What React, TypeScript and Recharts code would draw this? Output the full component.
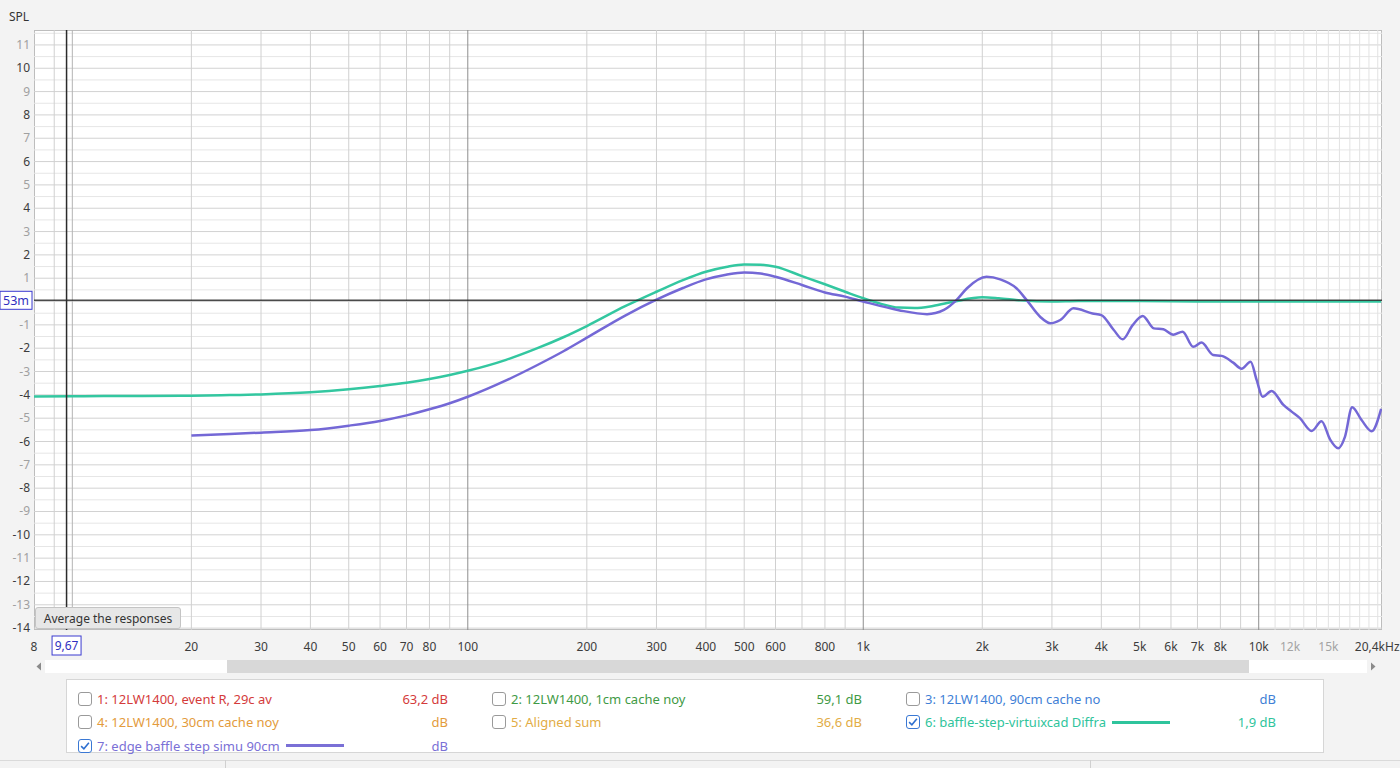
import React from 'react';
import { LineChart, Line, XAxis, YAxis, ReferenceLine } from 'recharts';

// 6: baffle-step-virtuixcad Diffra (teal)
const baffleFreq = [8, 10, 12, 15, 20, 25, 30, 40, 50, 60, 70, 80, 90, 100, 125, 150, 175, 200, 250, 300, 350, 400, 450, 500, 550, 600, 700, 800, 900, 1000, 1100, 1230, 1350, 1500, 1700, 2000, 2200, 2500, 3000, 3500, 5000, 7000, 10000, 15000, 20400];
const baffleSpl = [-4.07, -4.06, -4.05, -4.05, -4.04, -4.01, -3.98, -3.89, -3.76, -3.62, -3.48, -3.32, -3.15, -2.97, -2.5, -2.0, -1.52, -1.05, -0.2, 0.42, 0.92, 1.28, 1.48, 1.59, 1.58, 1.49, 1.09, 0.74, 0.42, 0.14, -0.08, -0.26, -0.28, -0.19, 0.0, 0.18, 0.14, 0.05, 0.0, 0.02, 0.02, 0.0, 0.0, 0.0, 0.0];

// 7: edge baffle step simu 90cm (purple)
const edgeFreq = [20, 25, 30, 40, 50, 60, 70, 80, 90, 100, 125, 150, 175, 200, 250, 300, 350, 400, 450, 500, 550, 600, 700, 800, 900, 1000, 1230, 1450, 1600, 1720, 1830, 2050, 2220, 2440, 2590, 2800, 2970, 3150, 3400, 3800, 4000, 4300, 4530, 4800, 5090, 5430, 5740, 6080, 6420, 6830, 7170, 7670, 8060, 8620, 9050, 9540, 9880, 10230, 10780, 11530, 12110, 12710, 13610, 14420, 15140, 15890, 16520, 17230, 18200, 19300, 20400];
const edgeSpl = [-5.74, -5.68, -5.62, -5.51, -5.32, -5.12, -4.88, -4.62, -4.36, -4.08, -3.38, -2.72, -2.12, -1.55, -0.6, 0.08, 0.58, 0.95, 1.15, 1.25, 1.2, 1.06, 0.71, 0.39, 0.21, 0.0, -0.37, -0.54, -0.36, 0.06, 0.57, 1.06, 0.95, 0.57, 0.06, -0.65, -0.93, -0.79, -0.29, -0.51, -0.58, -1.22, -1.62, -1.01, -0.62, -1.15, -1.19, -1.42, -1.29, -1.94, -1.76, -2.29, -2.33, -2.62, -2.88, -2.58, -3.36, -4.08, -3.83, -4.42, -4.72, -5.0, -5.55, -5.13, -5.9, -6.29, -5.8, -4.53, -5.08, -5.56, -4.6];

const freqTicks = [8, 20, 30, 40, 50, 60, 70, 80, 100, 200, 300, 400, 500, 600, 800, 1000, 2000, 3000, 4000, 5000, 6000, 7000, 8000, 10000, 12000, 15000, 20400];
const splTicks = [-14, -13, -12, -11, -10, -9, -8, -7, -6, -5, -4, -3, -2, -1, 0, 1, 2, 3, 4, 5, 6, 7, 8, 9, 10, 11];
const halfSplLines = [-13.5, -12.5, -11.5, -10.5, -9.5, -8.5, -7.5, -6.5, -5.5, -4.5, -3.5, -2.5, -1.5, -0.5, 0.5, 1.5, 2.5, 3.5, 4.5, 5.5, 6.5, 7.5, 8.5, 9.5, 10.5, 11.5];
const minorFreqLines = [9, 20, 30, 40, 50, 60, 70, 80, 90, 200, 300, 400, 500, 600, 700, 800, 900, 2000, 3000, 4000, 5000, 6000, 7000, 8000, 9000];
const fineFreqLines = [11000, 12000, 13000, 14000, 15000, 16000, 17000, 18000, 19000, 20000];
const decadeFreqLines = [100, 1000, 10000];

const cursorFreq = 9.67;
const cursorSpl = 0.053;

const baffleData = baffleFreq.map((f, i) => ({ f, spl: baffleSpl[i] }));
const edgeData = edgeFreq.map((f, i) => ({ f, spl: edgeSpl[i] }));

const legendColumns = [
  [
    { label: '1: 12LW1400, event R, 29c av', value: '63,2 dB', color: '#d43b3b', checked: false },
    { label: '4: 12LW1400, 30cm cache noy', value: 'dB', color: '#e39b3c', checked: false },
    { label: '7: edge baffle step simu 90cm', value: 'dB', color: '#7a70d6', checked: true, swatch: true },
  ],
  [
    { label: '2: 12LW1400, 1cm cache noy', value: '59,1 dB', color: '#3f9a45', checked: false },
    { label: '5: Aligned sum', value: '36,6 dB', color: '#e2ac45', checked: false },
  ],
  [
    { label: '3: 12LW1400, 90cm cache no', value: 'dB', color: '#3f7fd6', checked: false },
    { label: '6: baffle-step-virtuixcad Diffra', value: '1,9 dB', color: '#2fc49c', checked: true, swatch: true },
  ],
];

const FONT = '"Noto Sans", "Open Sans", sans-serif';

const fmtFreq = (v: number) => {
  if (v === 20400) return '20,4kHz';
  if (v >= 1000) return `${v / 1000}k`;
  return String(v);
};

const FreqTick = (props: any) => {
  const { x, y, payload } = props;
  const v = payload.value;
  const light = v === 12000 || v === 15000;
  return (
    <text x={v === 20400 ? x - 4 : x} y={y + 21} textAnchor="middle" fontSize={12} fontFamily={FONT} fill={light ? '#a3a3a3' : '#3c3c3c'}>
      {fmtFreq(v)}
    </text>
  );
};

// the 0 label sits under the cursor box, as in the reference
const SplTick = (props: any) => {
  const { x, y, payload } = props;
  const v = payload.value;
  if (v === 0) return null;
  const dark = v % 2 === 0;
  return (
    <text x={x - 4} y={y + 4} textAnchor="end" fontSize={12} fontFamily={FONT} fill={dark ? '#3c3c3c' : '#a0a0a0'}>
      {v}
    </text>
  );
};

const FreqCursorLabel = (props: any) => {
  const vb = props.viewBox;
  if (!vb) return null;
  const cx = vb.x;
  const top = vb.y + vb.height + 6;
  return (
    <g>
      <rect x={cx - 14.5} y={top} width={29} height={19} fill="#fff" stroke="#3b3bd0" strokeWidth={1} />
      <text x={cx} y={top + 14} textAnchor="middle" fontSize={12} fontFamily={FONT} fill="#2f2fc0">9,67</text>
    </g>
  );
};

const SplCursorLabel = (props: any) => {
  const vb = props.viewBox;
  if (!vb) return null;
  const cy = vb.y;
  return (
    <g>
      <rect x={vb.x - 34} y={cy - 9} width={32} height={18} fill="#fff" stroke="#3b3bd0" strokeWidth={1} />
      <text x={vb.x - 18} y={cy + 5} textAnchor="middle" fontSize={12.5} fontFamily={FONT} fill="#2f2fc0">53m</text>
    </g>
  );
};

const Checkbox = ({ checked }: { checked: boolean }) => (
  <div
    style={{
      width: 14,
      height: 14,
      border: `1px solid ${checked ? '#3a78d4' : '#9a9a9a'}`,
      borderRadius: 3,
      background: '#fff',
      boxSizing: 'border-box',
      display: 'flex',
      alignItems: 'center',
      justifyContent: 'center',
      flex: '0 0 auto',
    }}
  >
    {checked && (
      <svg width="10" height="10" viewBox="0 0 9 9">
        <path d="M1 4.6 L3.5 7 L8 1.6" fill="none" stroke="#2d6fd0" strokeWidth="1.4" />
      </svg>
    )}
  </div>
);

export default function App() {
  return (
    <div style={{ position: 'absolute', left: 0, top: 0, width: 1400, height: 768, background: '#f3f3f3', fontFamily: FONT, overflow: 'hidden' }}>
      <div style={{ position: 'absolute', left: 9, top: 8, fontSize: 12, color: '#333' }}>SPL</div>
      {/* plot background */}
      <div style={{ position: 'absolute', left: 34, top: 30, width: 1348, height: 600, background: '#fff', border: '1px solid #bdbdbd', boxSizing: 'border-box' }} />
      <div style={{ position: 'absolute', left: 0, top: 0 }}>
        <LineChart width={1400} height={660} margin={{ top: 30, right: 18, bottom: 0, left: 0 }}>
          <XAxis
            dataKey="f"
            type="number"
            scale="log"
            domain={[8, 20500]}
            allowDataOverflow
            ticks={freqTicks}
            interval={0}
            height={30}
            tickSize={0}
            tickMargin={0}
            axisLine={false}
            tickLine={false}
            tick={<FreqTick />}
          />
          <YAxis
            type="number"
            domain={[-14.08, 11.64]}
            allowDataOverflow
            ticks={splTicks}
            interval={0}
            width={34}
            tickSize={0}
            tickMargin={0}
            axisLine={false}
            tickLine={false}
            tick={<SplTick />}
          />
          {halfSplLines.map((v) => (
            <ReferenceLine key={`h${v}`} y={v} stroke="#e6e6e6" strokeWidth={1} />
          ))}
          {splTicks.map((v) => (
            <ReferenceLine key={`i${v}`} y={v} stroke="#d2d2d2" strokeWidth={1} />
          ))}
          {fineFreqLines.map((v) => (
            <ReferenceLine key={`ff${v}`} x={v} stroke="#e2e2e2" strokeWidth={1} />
          ))}
          {minorFreqLines.map((v) => (
            <ReferenceLine key={`mf${v}`} x={v} stroke="#d0d0d0" strokeWidth={1} />
          ))}
          <ReferenceLine x={10} stroke="#b4b4b4" strokeWidth={1} />
          {decadeFreqLines.map((v) => (
            <ReferenceLine key={`df${v}`} x={v} stroke="#8e8e8e" strokeWidth={1} />
          ))}
          <Line data={baffleData} dataKey="spl" type="monotone" stroke="#33c7a0" strokeWidth={2.5} dot={false} isAnimationActive={false} />
          <Line data={edgeData} dataKey="spl" type="monotone" stroke="#7468d6" strokeWidth={2.5} dot={false} isAnimationActive={false} />
          <ReferenceLine y={cursorSpl} stroke="#2b2b2b" strokeOpacity={0.85} strokeWidth={1.5} label={<SplCursorLabel />} />
          <ReferenceLine x={cursorFreq} stroke="#2b2b2b" strokeWidth={1.5} label={<FreqCursorLabel />} />
        </LineChart>
      </div>

      <div
        style={{
          position: 'absolute', left: 35, top: 607, width: 146, height: 22, boxSizing: 'border-box',
          background: '#e7e7e7', border: '1px solid #c4c4c4', borderRadius: 3, fontSize: 12, color: '#333',
          display: 'flex', alignItems: 'center', justifyContent: 'center',
        }}
      >
        Average the responses
      </div>

      {/* scrollbar */}
      <div style={{ position: 'absolute', left: 45, top: 660, width: 1322, height: 13, background: '#fff' }} />
      <div style={{ position: 'absolute', left: 227, top: 660, width: 1022, height: 13, background: '#d8d8d8' }} />
      <svg style={{ position: 'absolute', left: 35, top: 662 }} width="8" height="9">
        <path d="M6 0.5 L1.5 4.5 L6 8.5 Z" fill="#8a8a8a" />
      </svg>
      <svg style={{ position: 'absolute', left: 1369, top: 662 }} width="8" height="9">
        <path d="M2 0.5 L6.5 4.5 L2 8.5 Z" fill="#8a8a8a" />
      </svg>

      {/* legend panel */}
      <div style={{ position: 'absolute', left: 66, top: 679, width: 1258, height: 74, boxSizing: 'border-box', background: '#fff', border: '1px solid #d6d6d6' }} />
      {legendColumns.map((col, ci) => (
        <div key={ci} style={{ position: 'absolute', left: 78 + ci * 414, top: 687, width: 370 }}>
          {col.map((it) => (
            <div key={it.label} style={{ height: 23.5, display: 'flex', alignItems: 'center', fontSize: 13, color: it.color }}>
              <Checkbox checked={it.checked} />
              <span style={{ marginLeft: 5, whiteSpace: 'nowrap' }}>{it.label}</span>
              {it.swatch && <span style={{ marginLeft: 6, width: 58, height: 3, background: it.color, display: 'inline-block' }} />}
              <span style={{ marginLeft: 'auto', whiteSpace: 'nowrap' }}>{it.value}</span>
            </div>
          ))}
        </div>
      ))}

      {/* status bar */}
      <div style={{ position: 'absolute', left: 0, top: 760, width: 1400, height: 8, borderTop: '1px solid #dadada', boxSizing: 'border-box' }} />
      <div style={{ position: 'absolute', left: 225, top: 760, width: 1, height: 8, background: '#d0d0d0' }} />
      <div style={{ position: 'absolute', left: 1090, top: 760, width: 1, height: 8, background: '#d0d0d0' }} />
    </div>
  );
}
